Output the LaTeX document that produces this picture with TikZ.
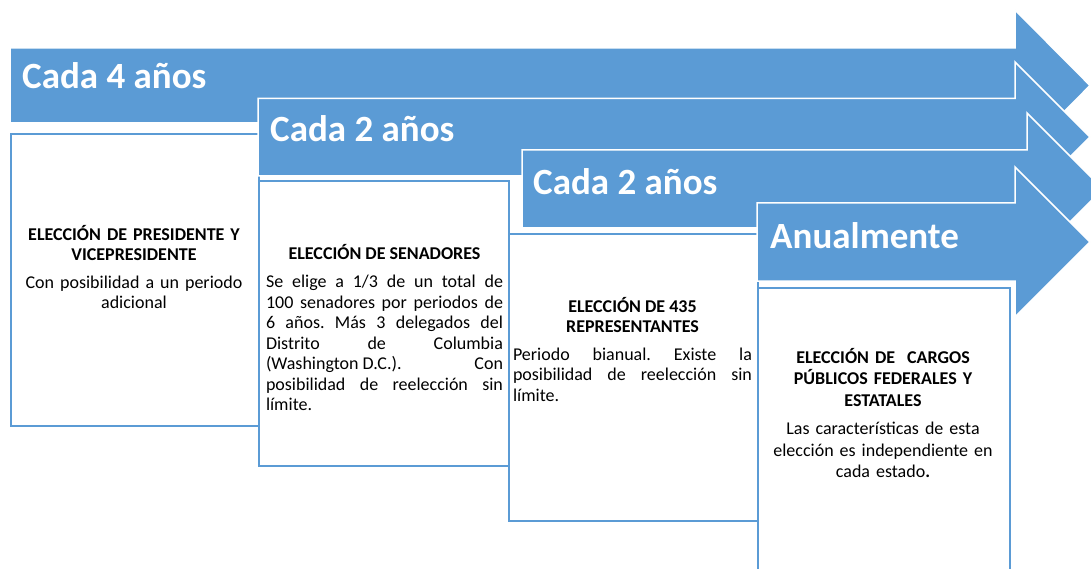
\documentclass[tikz,border=0pt]{standalone}
\usepackage{fontspec}
\setmainfont{Carlito}
\usepackage{xcolor}
\definecolor{azul}{RGB}{91,155,213}
\tolerance=10000
\hyphenpenalty=10000
\frenchspacing

\begin{document}
\begin{tikzpicture}[x=1pt,y=-1pt]
	\tikzstyle{flecha}=[fill=azul,draw=white,line width=1.5pt,line join=miter]
	\tikzstyle{titulo}=[anchor=base west,text=white,inner sep=0pt,font=\fontsize{37}{40}\selectfont\bfseries]
	\tikzstyle{caja}=[draw=azul,line width=2pt,fill=white,anchor=north west,inner sep=0pt]
	\tikzstyle{texto}=[anchor=north,inner sep=0pt,text width=240pt,font=\fontsize{18}{20.5}\selectfont]
	\useasboundingbox (0,0) rectangle (1091,569);

	% cada 4 anos
	\fill[flecha] (10,48) -- (1015,48) -- (1015,10) -- (1090,85.5) -- (1015,161) -- (1015,123) -- (10,123) -- cycle;
	\node[titulo](T1) at (22,89){Cada 4 años};
	\node[caja,minimum width=248,minimum height=292](B1) at (10,133){};
	\node[texto,align=center](D1) at (134,225){\textbf{ELECCIÓN DE PRESIDENTE Y\\VICEPRESIDENTE}\\[7pt]
		Con posibilidad a un periodo\\adicional};

	% cada 2 anos (senado)
	\fill[flecha] (258,98.5) -- (1015,98.5) -- (1015,62) -- (1090,137) -- (1015,212) -- (1015,176) -- (258,176) -- cycle;
	\node[titulo](T2) at (270,142){Cada 2 años};
	\node[caja,minimum width=250,minimum height=285](B2) at (258,180){};
	\node[texto,align=justify,text width=237pt](D2) at (384.5,244){{\centering\bfseries ELECCIÓN DE SENADORES\par}\vspace{8pt}
		Se elige a 1/3 de un total de\linebreak 100 senadores por periodos de\linebreak
		6 años. Más 3 delegados del\linebreak Distrito de Columbia\linebreak
		\mbox{(Washington D.C.).} Con\linebreak posibilidad de reelección sin\linebreak límite.};

	% cada 2 anos (camara)
	\fill[flecha] (522,150) -- (1027,150) -- (1027,113) -- (1103,189) -- (1027,265) -- (1027,228) -- (522,228) -- cycle;
	\node[titulo](T3) at (533,195){Cada 2 años};
	\node[caja,minimum width=249,minimum height=287](B3) at (508,233){};
	\node[texto,align=justify,text width=239pt](D3) at (632.5,297){{\centering\bfseries ELECCIÓN DE 435\\REPRESENTANTES\par}\vspace{7pt}
		Periodo bianual. Existe la\linebreak posibilidad de reelección sin\linebreak límite.};

	% anualmente
	\fill[flecha] (757,203) -- (1015,203) -- (1015,167) -- (1090,242) -- (1015,317) -- (1015,281) -- (757,281) -- cycle;
	\node[titulo](T4) at (770,248){Anualmente};
	\node[caja,minimum width=252,minimum height=300](B4) at (757,287){};
	\node[texto,align=center,font=\fontsize{18}{21.5}\selectfont](D4) at (883,348){\textbf{ELECCIÓN DE~ CARGOS\\PÚBLICOS FEDERALES Y\\ESTATALES}\\[7pt]
		Las características de esta\\elección es independiente en\\cada estado\textbf{.}};
\end{tikzpicture}
\end{document}
